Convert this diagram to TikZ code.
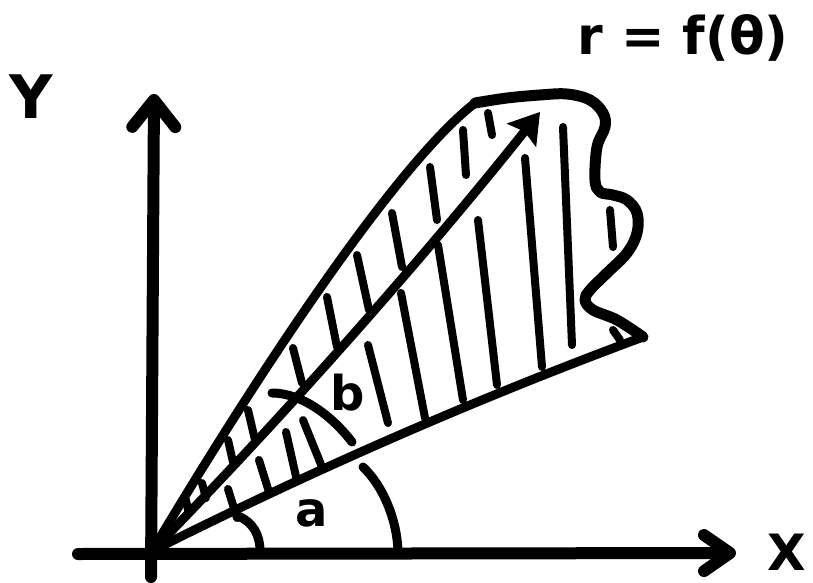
\documentclass[tikz,border=0pt]{standalone}
\usepackage{fontspec}
\setmainfont{DejaVu Sans}
\usetikzlibrary{arrows.meta}

\begin{document}
\begin{tikzpicture}[x=1pt,y=-1pt,
          axis/.style={line width=12pt,line cap=round,line join=round},
          ray/.style={line width=9pt,line cap=round,line join=round},
          rim/.style={line width=11pt,line cap=round,line join=round},
          hatch/.style={line width=8pt,line cap=round},
          lbl/.style={inner sep=0pt,font=\bfseries\fontsize{#1}{#1}\selectfont},
          lbl/.default=48]
  \useasboundingbox (0,0) rectangle (813,583);
  \coordinate (O) at (152,551);
  \coordinate (ybot) at (151,577);
  \coordinate (ytip) at (154,94);
  \coordinate (xbot) at (78,554);
  \coordinate (xtip) at (736,553);
  \coordinate (top) at (475,103);
  \coordinate (mid) at (540,112);
  \coordinate (corner) at (643,337);
  % axes
  \draw[axis,-{Straight Barb[length=27pt,width=43pt,round]}] (ybot) -- (ytip);
  \draw[axis,-{Straight Barb[length=26pt,width=36pt,round]}] (xbot) -- (xtip);
  \node[lbl=60] (ylabel) at (31,97) {Y};
  \node[lbl=50] (xlabel) at (787,552) {X};
  % region bounded by r=f(theta)
  \draw[ray] (O) .. controls (255,378) and (395,165) .. (top);
  \draw[ray] (O) .. controls (317,468) and (481,397) .. (corner);
  \draw[rim] plot[smooth,tension=0.6] coordinates {(475,103) (507,98) (540,95)
    (567,94) (590,100) (603,113) (605,127) (597,147) (595,180) (600,192)
    (613,195) (627,200) (637,213) (637,233) (627,253) (607,273) (590,290)
    (585,300) (593,310) (617,320) (643,337)};
  \draw[ray,-{Stealth[length=30pt,width=38pt,inset=5pt,line width=0pt]}]
    (O) .. controls (290,410) and (430,250) .. (mid);
  \node[lbl=52] (curvelabel) at (683,38) {r = f(θ)};
  % hatching
  \foreach \ux/\uy/\vx/\vy in {488/113/492/135, 463/130/466/175, 430/167/437/220,
      392/213/402/267, 357/255/369/310, 327/297/337/347, 293/348/302/383,
      248/410/255/440, 228/440/233/462, 202/483/206/498, 186/500/188/510,
      563/127/572/345, 525/158/542/367, 478/220/497/385, 438/245/463/400,
      401/293/425/418, 368/345/388/423, 303/420/322/467, 286/432/297/481,
      259/460/269/492, 228/489/237/518, 610/210/613/247, 613/330/620/340}
    \draw[hatch] (\ux,\uy) -- (\vx,\vy);
  % angles
  \draw[ray] (238,516) .. controls (253,522) and (260,535) .. (260,551);
  \draw[ray] (363,467) .. controls (384,487) and (397,521) .. (398,551);
  \draw[ray] (272,393) .. controls (302,393) and (332,416) .. (352,442);
  \node[lbl] (alabel) at (312,513) {a};
  \node[lbl] (blabel) at (348,393) {b};
\end{tikzpicture}
\end{document}
